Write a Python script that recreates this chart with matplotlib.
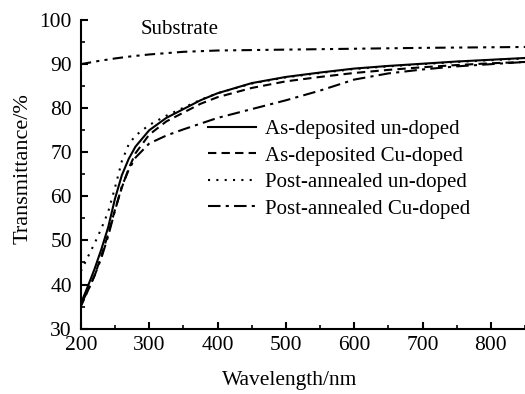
import matplotlib
matplotlib.use("Agg")
import matplotlib.pyplot as plt
from matplotlib.ticker import MultipleLocator

plt.rcParams['font.family'] = ['Liberation Serif', 'DejaVu Serif']
plt.rcParams['mathtext.fontset'] = 'stix'

wl = [200, 210, 220, 230, 240, 250, 260, 270, 280, 300, 325, 350, 375, 400,
      450, 500, 550, 600, 650, 700, 750, 800, 850]

as_dep_undoped = [35.7, 39.5, 43.5, 48.0, 53.0, 59.5, 64.8, 68.5, 71.3, 75.0, 77.8, 79.8, 81.8, 83.4,
                  85.7, 87.1, 88.1, 89.0, 89.6, 90.1, 90.6, 91.0, 91.4]
as_dep_cu = [35.0, 38.5, 42.0, 46.5, 51.5, 57.0, 62.0, 66.3, 69.8, 74.0, 77.0, 79.0, 81.0, 82.5,
             84.6, 86.1, 87.1, 88.0, 88.7, 89.3, 89.8, 90.2, 90.5]
post_ann_undoped = [43.0, 46.2, 49.3, 52.7, 56.5, 62.0, 68.0, 71.8, 73.8, 76.2, 78.3, 80.1, 81.9, 83.4,
                    85.6, 87.0, 88.0, 88.9, 89.5, 90.0, 90.5, 90.9, 91.3]
post_ann_cu = [35.5, 38.5, 42.0, 46.0, 51.0, 56.8, 62.3, 66.0, 68.8, 72.0, 73.8, 75.2, 76.5, 77.8,
               79.8, 81.8, 84.0, 86.5, 87.9, 88.8, 89.5, 90.0, 90.5]

sub_wl = [200, 225, 250, 275, 300, 350, 400, 500, 600, 700, 850]
substrate = [90.0, 90.7, 91.3, 91.8, 92.2, 92.8, 93.1, 93.3, 93.5, 93.7, 93.9]

labels = ['As-deposited un-doped', 'As-deposited Cu-doped',
          'Post-annealed un-doped', 'Post-annealed Cu-doped']

fig = plt.figure(figsize=(5.25, 3.94), dpi=100)
ax = fig.add_axes([0.154, 0.166, 0.846, 0.783])

lw = 1.5
ax.plot(wl, as_dep_undoped, color='black', lw=lw, ls='-', label=labels[0])
ax.plot(wl, as_dep_cu, color='black', lw=lw, ls=(0, (4, 2.5)), label=labels[1])
ax.plot(wl, post_ann_undoped, color='black', lw=lw, ls=(0, (1, 3)), label=labels[2])
ax.plot(wl, post_ann_cu, color='black', lw=lw, ls=(0, (6, 2.5, 1.5, 2.5)), label=labels[3])
ax.plot(sub_wl, substrate, color='black', lw=lw, ls=(0, (5, 2.5, 1.5, 2.5, 1.5, 2.5)))

ax.text(344, 97.9, 'Substrate', fontsize=15, ha='center', va='center')

ax.set_xlim(200, 850)
ax.set_ylim(30, 100)
ax.xaxis.set_major_locator(MultipleLocator(100))
ax.xaxis.set_minor_locator(MultipleLocator(50))
ax.yaxis.set_major_locator(MultipleLocator(10))
ax.yaxis.set_minor_locator(MultipleLocator(5))

for s in ['top', 'right']:
    ax.spines[s].set_visible(False)
for s in ['left', 'bottom']:
    ax.spines[s].set_linewidth(1.5)

ax.tick_params(which='major', direction='in', length=5, width=1.5, labelsize=15.5)
ax.tick_params(which='minor', direction='in', length=3, width=1.2)
ax.tick_params(axis='x', pad=5)
ax.tick_params(axis='y', pad=6.5)

ax.set_xlabel('Wavelength/nm', fontsize=15.5)
ax.set_ylabel('Transmittance/%', fontsize=16)
ax.xaxis.set_label_coords(0.47, -0.137)
ax.yaxis.set_label_coords(-0.108, 0.52)

leg = ax.legend(loc='center left', bbox_to_anchor=(0.286, 0.517), frameon=False,
                fontsize=15, handlelength=2.3, handletextpad=0.45, labelspacing=0.33,
                borderpad=0, borderaxespad=0)

fig.savefig('out.png', dpi=100)
